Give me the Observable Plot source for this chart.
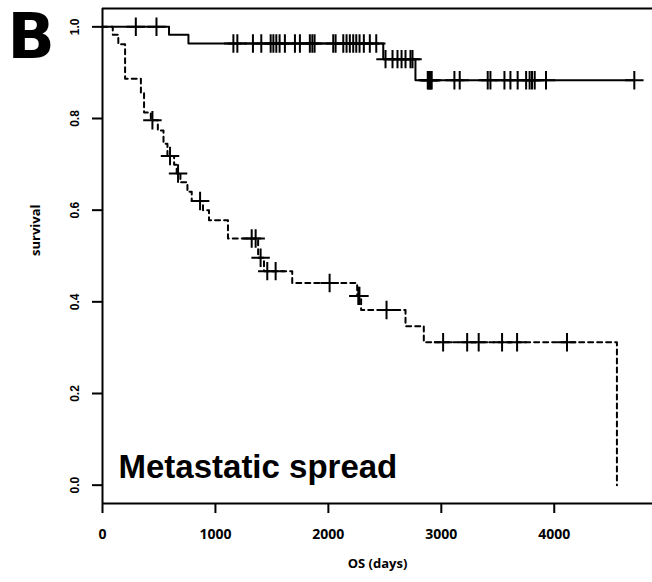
<!DOCTYPE html>
<html>
<head>
<meta charset="utf-8">
<script src="https://cdn.jsdelivr.net/npm/d3@7"></script>
<script src="https://cdn.jsdelivr.net/npm/@observablehq/plot@0.6"></script>
<style>
  html, body { margin: 0; padding: 0; background: white; }
</style>
</head>
<body>
<div id="chart"></div>
<script>
// Axis ticks
const xTicks = [0, 1000, 2000, 3000, 4000];
const yTicks = [0, 0.2, 0.4, 0.6, 0.8, 1.0];

// Solid curve (no metastatic spread): event times (days) and survival after each event
const solidTimes = [0, 589, 761, 2486, 2771, 4709];
const solidSurv  = [1.0, 0.983, 0.9635, 0.9295, 0.8836, 0.8836];
const solidCensored = [295, 478, 1159, 1194, 1332, 1406, 1489, 1513, 1539, 1568, 1615, 1704, 1748,
  1836, 1858, 1878, 2043, 2064, 2132, 2161, 2190, 2220, 2247, 2276, 2314, 2367, 2424,
  2506, 2568, 2612, 2648, 2683, 2727, 2745,
  2880, 2889, 2897, 2906, 2915, 3116, 3163, 3411, 3435, 3559, 3612, 3676, 3751, 3782, 3803, 3827, 3927, 4709];

// Dashed curve (metastatic spread)
const dashedTimes = [0, 91, 140, 200, 340, 368, 428, 490, 540, 575, 634, 657, 690, 752, 790, 890, 943,
  1111, 1378, 1430, 1680, 2255, 2290, 2683, 2845, 4555];
const dashedSurv  = [1.0, 0.983, 0.962, 0.887, 0.855, 0.813, 0.796, 0.774, 0.745, 0.718, 0.699, 0.680, 0.661,
  0.640, 0.620, 0.600, 0.578, 0.538, 0.496, 0.467, 0.441, 0.413, 0.382, 0.347, 0.312, 0.0];
const dashedCensored = [442, 598, 669, 864, 1321, 1356, 1400, 1459, 1533, 2011, 2265, 2275, 2515,
  3016, 3229, 3331, 3538, 3671, 4113];

const toRows = (T, S) => T.map((t, i) => ({t, s: S[i]}));
const stepAt = (T, S) => d => { let v = S[0]; for (let i = 0; i < T.length; i++) if (T[i] <= d) v = S[i]; return v; };
const solidAt = stepAt(solidTimes, solidSurv);
const dashedAt = stepAt(dashedTimes, dashedSurv);

const chart = Plot.plot({
  width: 652,
  height: 582,
  marginLeft: 102,
  marginRight: 0,
  marginTop: 8,
  marginBottom: 79,
  x: {domain: [0, 4870]},
  y: {domain: [-0.04, 1.04]},
  style: {background: "white", color: "black"},
  marks: [
    Plot.ruleY([-0.04, 1.04], {strokeWidth: 2}),
    Plot.ruleX([0], {strokeWidth: 2}),
    Plot.axisX(xTicks, {tickSize: 10, tickPadding: 16, tickFormat: "d", fontSize: 14, fontWeight: "bold",
      fontFamily: "'Open Sans', sans-serif", strokeWidth: 2, label: null}),
    Plot.axisY(yTicks, {tickSize: 10, tickPadding: 14, tickRotate: -90, tickFormat: d => d.toFixed(1),
      fontSize: 12, fontWeight: "bold", fontFamily: "'Liberation Sans', Arial, sans-serif", strokeWidth: 2, label: null}),
    Plot.line(toRows(solidTimes, solidSurv), {x: "t", y: "s", curve: "step-after", strokeWidth: 2}),
    Plot.line(toRows(dashedTimes, dashedSurv), {x: "t", y: "s", curve: "step-after", strokeWidth: 2, strokeDasharray: "5,4"}),
    Plot.dot(solidCensored, {x: d => d, y: solidAt, symbol: "plus", r: 6, stroke: "black", strokeWidth: 2}),
    Plot.dot(dashedCensored, {x: d => d, y: dashedAt, symbol: "plus", r: 6, stroke: "black", strokeWidth: 2}),
    Plot.text(["B"], {frameAnchor: "top-left", dx: -95, dy: 5, textAnchor: "start", lineAnchor: "top",
      fontSize: 62, fontWeight: "bold", fontFamily: "'DejaVu Sans', sans-serif"}),
    Plot.text(["survival"], {frameAnchor: "left", dx: -67, rotate: -90, fontSize: 13, fontWeight: "bold",
      fontFamily: "'Open Sans', sans-serif"}),
    Plot.text(["OS (days)"], {frameAnchor: "bottom", dy: 64, fontSize: 13, fontWeight: "bold",
      fontFamily: "'Open Sans', sans-serif"}),
    Plot.text(["Metastatic spread"], {frameAnchor: "bottom-left", dx: 16, dy: -36, textAnchor: "start",
      lineAnchor: "middle", fontSize: 33, fontWeight: "bold", fontFamily: "'Liberation Sans', Arial, sans-serif"})
  ]
});
document.getElementById("chart").appendChild(chart);
</script>
</body>
</html>
